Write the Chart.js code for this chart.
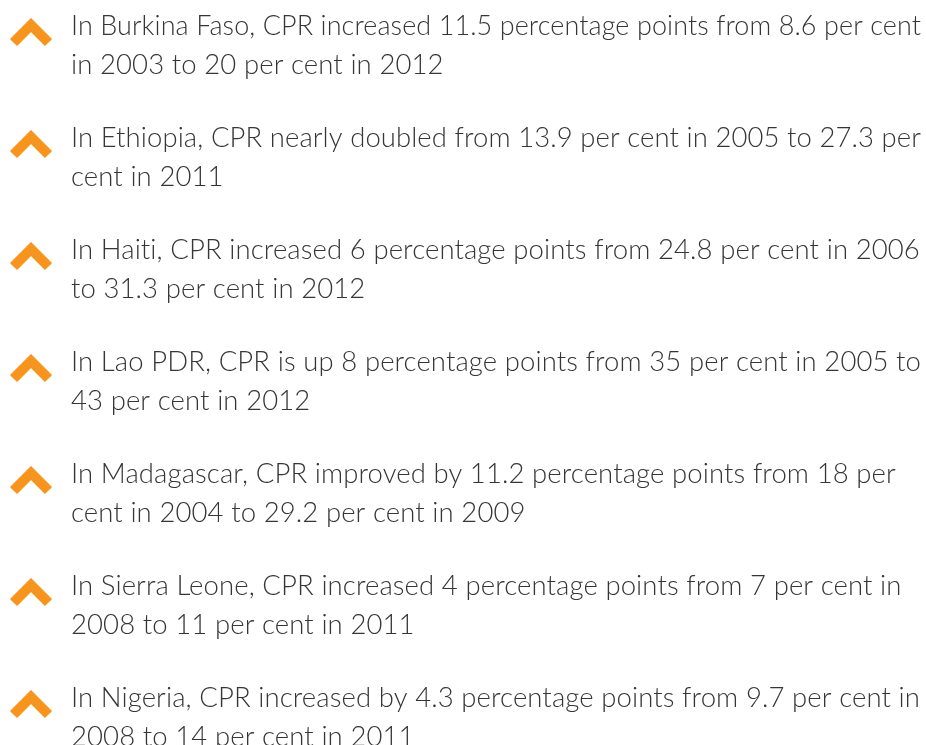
<!DOCTYPE html>
<html>
<head>
<meta charset="utf-8">
<script src="https://cdn.jsdelivr.net/npm/chart.js@4"></script>
<style>
  html, body { margin: 0; padding: 0; background: #fff; }
  #wrap { width: 926px; height: 745px; }
</style>
</head>
<body>
<div id="wrap"><canvas id="cpr"></canvas></div>
<script>
// CPR change by country
var countries = ["Burkina Faso", "Ethiopia", "Haiti", "Lao PDR", "Madagascar", "Sierra Leone", "Nigeria"];
var cprStart = [8.6, 13.9, 24.8, 35, 18, 7, 9.7];
var cprEnd = [20, 27.3, 31.3, 43, 29.2, 11, 14];
var yearStart = [2003, 2005, 2006, 2005, 2004, 2008, 2008];
var yearEnd = [2012, 2011, 2012, 2012, 2009, 2011, 2011];
var pointsUp = [11.5, null, 6, 8, 11.2, 4, 4.3];

var lines = [
  ["In Burkina Faso, CPR increased 11.5 percentage points from 8.6 per cent", "in 2003 to 20 per cent in 2012"],
  ["In Ethiopia, CPR nearly doubled from 13.9 per cent in 2005 to 27.3 per", "cent in 2011"],
  ["In Haiti, CPR increased 6 percentage points from 24.8 per cent in 2006", "to 31.3 per cent in 2012"],
  ["In Lao PDR, CPR is up 8 percentage points from 35 per cent in 2005 to", "43 per cent in 2012"],
  ["In Madagascar, CPR improved by 11.2 percentage points from 18 per", "cent in 2004 to 29.2 per cent in 2009"],
  ["In Sierra Leone, CPR increased 4 percentage points from 7 per cent in", "2008 to 11 per cent in 2011"],
  ["In Nigeria, CPR increased by 4.3 percentage points from 9.7 per cent in", "2008 to 14 per cent in 2011"]
];

var orange = "#f7941d";
var textColor = "#363636";
var textFont = "300 27.5px Lato";

// chevron icon used as point style
var chevron = document.createElement("canvas");
chevron.width = 44;
chevron.height = 30;
var c = chevron.getContext("2d");
c.strokeStyle = orange;
c.lineWidth = 10;
c.lineJoin = "miter";
c.lineCap = "butt";
c.beginPath();
c.moveTo(4.5, 24.5);
c.lineTo(22, 7);
c.lineTo(39.5, 24.5);
c.stroke();

var textPlugin = {
  id: "statements",
  afterDatasetsDraw: function (chart) {
    var ctx = chart.ctx;
    var xs = chart.scales.x;
    var ys = chart.scales.y;
    ctx.save();
    ctx.font = textFont;
    ctx.letterSpacing = "0.1px"; // keeps "ti" from turning into a ligature
    ctx.fillStyle = textColor;
    ctx.textBaseline = "alphabetic";
    ctx.textAlign = "left";
    for (var i = 0; i < lines.length; i++) {
      var x = xs.getPixelForValue(0) + 40;
      var y = ys.getPixelForValue(i) + 1.5;
      var maxW = chart.width - x - 5;
      ctx.fillText(lines[i][0], x, y, maxW);
      ctx.fillText(lines[i][1], x, y + 39, maxW);
    }
    ctx.restore();
  }
};

var ctx = document.getElementById("cpr").getContext("2d");
var myChart = new Chart(ctx, {
  type: "scatter",
  data: {
    datasets: [
      {
        label: "CPR increase",
        data: countries.map(function (name, i) {
          return { x: 0, y: i };
        }),
        pointStyle: chevron,
        pointRadius: 20,
        pointHoverRadius: 20,
        clip: false
      }
    ]
  },
  options: {
    responsive: true,
    maintainAspectRatio: false,
    animation: false,
    layout: { autoPadding: false, padding: { left: 31, right: 0, top: 0, bottom: 0 } },
    plugins: {
      legend: { display: false },
      tooltip: { enabled: false }
    },
    scales: {
      x: { display: false, min: 0, max: 1 },
      y: { display: false, reverse: true, min: -0.295, max: 6.357 }
    }
  },
  plugins: [textPlugin]
});
</script>
</body>
</html>
